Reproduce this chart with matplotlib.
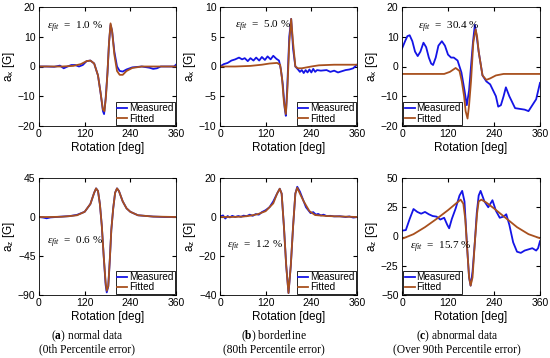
import numpy as np
import matplotlib
matplotlib.use("Agg")
import matplotlib.pyplot as plt

plt.rcParams['font.family'] = ['Liberation Sans', 'DejaVu Sans']
plt.rcParams['mathtext.fontset'] = 'custom'
plt.rcParams['mathtext.rm'] = 'Liberation Serif'
plt.rcParams['mathtext.it'] = 'Liberation Serif:italic'
plt.rcParams['mathtext.bf'] = 'Liberation Serif:bold'
plt.rcParams['mathtext.sf'] = 'Liberation Sans'

# ---- (a) normal data, a_x ----
ax_a_meas_deg = [0, 20, 40, 55, 65, 75, 85, 95, 105, 115, 125, 135, 145, 155, 162, 168, 171, 175, 180, 184, 188,
                 192, 198, 205, 212, 220, 230, 245, 270, 290, 300, 310, 320, 340, 355, 360]
ax_a_meas = [0, 0, -0.1, 0.3, -0.6, 0, 0.5, 0.5, 0, 0.5, 1.8, 2, 1, -3, -9, -15, -16, -11, -2, 8, 14,
             12, 5, 0, -1.5, -1.7, -1, -0.3, 0, -0.4, -0.8, -0.6, 0, 0, 0, 0.6]
ax_a_fit_deg = [0, 30, 60, 90, 110, 125, 135, 145, 155, 162, 168, 172, 176, 180, 184, 188, 192, 198, 205, 212,
                220, 230, 245, 270, 360]
ax_a_fit = [0, 0, 0, 0.2, 0.8, 1.8, 2.0, 1.0, -3, -9, -14.5, -15, -10, -2, 8, 14.5, 12, 4, -1.5, -2.8,
            -2.8, -1.5, -0.5, 0, 0]

# ---- (b) borderline, a_x ----
ax_b_meas_deg = [0, 10, 20, 30, 40, 50, 58, 65, 73, 80, 88, 95, 103, 110, 118, 125, 133, 140, 148, 155, 160,
                 165, 170, 173, 177, 182, 187, 192, 198, 205, 210, 215, 220, 225, 230, 235, 240, 245, 250, 255,
                 265, 280, 290, 300, 310, 320, 330, 340, 350, 360]
ax_b_meas = [0, 0.4, 0.6, 1.0, 1.2, 1.5, 1.2, 1.4, 0.9, 1.4, 1.0, 1.5, 1.0, 1.6, 1.1, 1.7, 1.2, 1.8, 1.3, 1.0, -0.5,
             -3, -7, -8.3, -3, 5, 8, 3, 0, -0.5, -0.9, -0.6, -1.1, -0.6, -1.0, -0.5, -1.0, -0.4, -0.9, -0.6,
             -0.7, -0.6, -0.9, -0.7, -1.0, -0.8, -0.6, -0.5, -0.3, 0.3]
ax_b_fit_deg = [0, 40, 80, 110, 130, 150, 158, 163, 168, 173, 177, 182, 187, 192, 198, 205, 215, 240, 260,
                300, 360]
ax_b_fit = [0, 0, 0.1, 0.3, 0.5, 0.6, 0.3, -2, -6, -8, -4, 4, 8, 4, 0, -0.3, -0.3, 0, 0.2, 0.3, 0.3]

# ---- (c) abnormal data, a_x ----
ax_c_meas_deg = [0, 8, 14, 20, 27, 34, 41, 48, 56, 63, 70, 76, 81, 88, 95, 104, 112, 120, 128, 135, 145,
                 155, 163, 169, 175, 180, 185, 190, 195, 200, 210, 220, 230, 245, 251, 258, 265, 271, 280,
                 295, 320, 330, 340, 350, 360]
ax_c_meas = [6, 8.5, 10.2, 10.5, 8.5, 5, 3.5, 5, 8, 6.5, 3, 1, 0.5, 3, 7, 8.5, 7, 4, 3, 3, 2,
             -2, -8, -13, -8, 0, 8, 14, 10, 5, -3, -5, -6, -10, -13.5, -13, -10, -7, -10,
             -14, -14.5, -15, -13, -11, -5.5]
ax_c_fit_deg = [0, 50, 110, 125, 140, 150, 156, 162, 166, 171, 175, 180, 186, 192, 196, 200, 210, 220, 230,
                245, 265, 360]
ax_c_fit = [-2.5, -2.5, -2.5, -1.8, -0.5, -1.5, -5, -10, -15, -17.5, -13, -5, 8, 12.5, 10, 5, -3, -4.5, -4,
            -3, -2.5, -2.5]

# ---- (a) normal data, a_z ----
az_a_meas_deg = [0, 10, 20, 30, 45, 60, 80, 100, 120, 135, 145, 150, 155, 160, 165, 170, 175, 178, 182, 186,
                 190, 195, 200, 205, 210, 220, 230, 240, 260, 300, 330, 360]
az_a_meas = [0, -0.5, -1.5, -0.5, 0, 0.5, 1, 2.5, 6, 15, 28, 33, 30, 15, -10, -45, -78, -87, -80, -50,
             -15, 10, 28, 33, 30, 18, 10, 6, 2, 0.5, 0, 0]
az_a_fit_deg = [0, 30, 60, 80, 100, 120, 135, 145, 150, 155, 160, 165, 170, 175, 178, 182, 186, 190, 195,
                200, 205, 210, 220, 230, 240, 260, 300, 360]
az_a_fit = [0, 0, 0.3, 1, 2, 6, 15, 28, 33, 30, 15, -10, -45, -75, -85, -80, -50, -15, 10,
            28, 33, 30, 18, 10, 6, 2, 0.5, 0]

# ---- (b) borderline, a_z ----
az_b_meas_deg = [0, 8, 14, 20, 26, 32, 40, 48, 55, 62, 70, 78, 86, 94, 102, 110, 120, 130, 140, 150, 157,
                 162, 168, 174, 180, 186, 192, 198, 203, 210, 218, 226, 232, 238, 245, 252, 258, 265, 272,
                 280, 290, 300, 315, 330, 340, 350, 360]
az_b_meas = [0.3, 0.8, -0.8, 0.5, -0.2, 0.6, 0, 0.5, 0.1, 0.7, 0.4, 1.2, 0.6, 1.5, 1.2, 2.5, 3.5, 5, 8, 12, 14.5,
             12, -5, -25, -39, -25, -5, 12, 15.5, 13, 9, 5, 3.5, 2, 2.5, 1.2, 1.6, 0.8, 1.2,
             0.5, 0.6, 0.3, 0.4, 0, 0.3, -0.3, 0]
az_b_fit_deg = [0, 30, 60, 80, 100, 120, 140, 150, 157, 162, 168, 174, 180, 186, 192, 198, 203, 210, 220,
                235, 250, 280, 360]
az_b_fit = [0, 0, 0.2, 0.7, 1.5, 3, 7, 12, 14.5, 12, -5, -25, -39, -25, -5, 12, 15, 12, 8,
            3, 1, 0.5, 0]

# ---- (c) abnormal data, a_z ----
az_c_meas_deg = [0, 10, 20, 30, 40, 50, 60, 70, 80, 90, 100, 110, 118, 123, 130, 140, 150, 157, 163, 170,
                 175, 179, 184, 190, 195, 200, 205, 215, 225, 236, 245, 255, 265, 272, 280, 290, 300, 310,
                 320, 330, 340, 350, 355, 360]
az_c_meas = [5, 5.5, 15, 23.5, 21, 19.5, 21, 19, 17.5, 17, 14.5, 16, 10, 7, 15, 24, 35, 39, 30, -10,
             -35, -42, -30, -5, 20, 35, 39, 30, 25, 31, 22, 16, 17, 19, 10, -5, -13, -14,
             -12, -11, -10, -12, -10, -4]
az_c_fit_deg = [0, 30, 60, 90, 120, 140, 153, 160, 165, 170, 175, 179, 184, 190, 196, 200, 207, 220, 240,
                270, 300, 330, 360]
az_c_fit = [-2, 2, 8, 15, 22.5, 28, 31.5, 28, 15, -10, -35, -42, -35, -5, 20, 30, 31.5, 29, 24,
            16, 8, 2, -1.5]

errors = ['1.0', '5.0', '30.4', '0.6', '1.2', '15.7']
captions = [('a', 'normal data', '(0th Percentile error)'),
            ('b', 'borderline', '(80th Percentile error)'),
            ('c', 'abnormal data', '(Over 90th Percentile error)')]

meas_color = '#1414e6'
fit_color = '#a8501e'

fig = plt.figure(figsize=(5.5, 3.58), dpi=100)
W, H = 550.0, 358.0
cols = [(39, 176), (220, 357), (402, 540)]
rows = [(7, 126), (178, 295)]
caption_x = [87, 274, 457]

panels = [
    (ax_a_meas_deg, ax_a_meas, ax_a_fit_deg, ax_a_fit, (-20, 20), [-20, -10, 0, 10, 20], 'x', (20, 13), 'lower right'),
    (ax_b_meas_deg, ax_b_meas, ax_b_fit_deg, ax_b_fit, (-10, 10), [-10, -5, 0, 5, 10], 'x', (40, 6.7), 'lower right'),
    (ax_c_meas_deg, ax_c_meas, ax_c_fit_deg, ax_c_fit, (-20, 20), [-20, -10, 0, 10, 20], 'x', (43, 13), 'lower left'),
    (az_a_meas_deg, az_a_meas, az_a_fit_deg, az_a_fit, (-90, 45), [-90, -45, 0, 45], 'z', (20, -29), 'lower right'),
    (az_b_meas_deg, az_b_meas, az_b_fit_deg, az_b_fit, (-40, 20), [-40, -20, 0, 20], 'z', (18, -15), 'lower right'),
    (az_c_meas_deg, az_c_meas, az_c_fit_deg, az_c_fit, (-50, 50), [-50, -25, 0, 25, 50], 'z', (20, -9), 'lower left'),
]

for i, (mx, my, fx, fy, ylim, yticks, comp, txy, loc) in enumerate(panels):
    r, c = divmod(i, 3)
    x0, x1 = cols[c]
    y0, y1 = rows[r]
    ax = fig.add_axes([x0 / W, 1 - y1 / H, (x1 - x0) / W, (y1 - y0) / H])
    ax.plot(mx, my, color=meas_color, lw=1.3, label='Measured')
    ax.plot(fx, fy, color=fit_color, lw=1.3, label='Fitted')
    ax.set_xlim(0, 360)
    ax.set_ylim(*ylim)
    ax.set_xticks([0, 120, 240, 360])
    ax.set_yticks(yticks)
    ax.tick_params(direction='in', length=3, labelsize=7.5, top=True, right=True, pad=2.5)
    ax.set_xlabel('Rotation [deg]', fontsize=8.5, labelpad=1.5)
    ax.set_ylabel('a$_\\mathsf{' + comp + '}$ [G]', fontsize=8.5, labelpad=1)
    for s in ax.spines.values():
        s.set_linewidth(0.6)
    ax.text(txy[0], txy[1], r'$\epsilon_{fit}$  =  ' + errors[i] + ' %', fontsize=8,
            family='Liberation Serif', va='center')
    leg = ax.legend(loc=loc, fontsize=7.2, fancybox=False, edgecolor='black', framealpha=1,
                    borderpad=0.15, labelspacing=0.05, handletextpad=0.2, handlelength=1.0,
                    borderaxespad=0.1)
    leg.get_frame().set_linewidth(0.6)

for c, (letter, line1, line2) in enumerate(captions):
    xc = caption_x[c] / W
    fig.text(xc, 1 - 336 / H, r'($\mathbf{' + letter + '}$) ' + line1, ha='center', va='center',
             fontsize=8.3, family='Liberation Serif')
    fig.text(xc, 1 - 349 / H, line2, ha='center', va='center', fontsize=8.3, family='Liberation Serif')

fig.savefig('out.png', dpi=100)
